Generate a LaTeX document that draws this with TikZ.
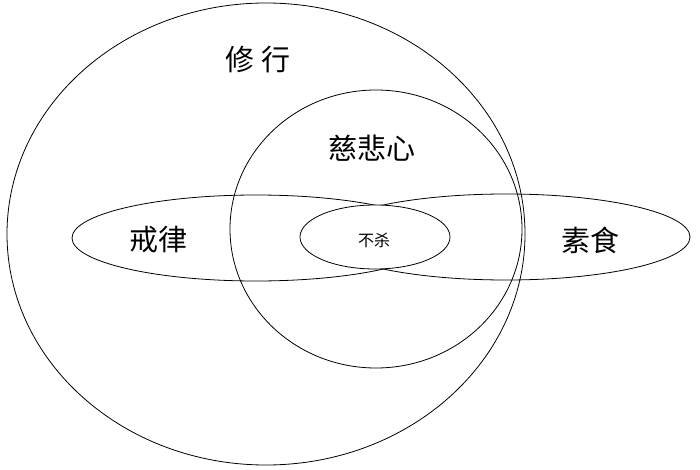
\documentclass[tikz,border=0pt]{standalone}
\usepackage{fontspec}
\newfontfamily\cjk{Noto Sans CJK SC}
\begin{document}
\begin{tikzpicture}[x=1pt,y=-1pt,line width=0.8pt,
  lab/.style={font=\cjk\fontsize{29}{32}\selectfont},
  slab/.style={font=\cjk\fontsize{16}{18}\selectfont}]
\useasboundingbox[fill=white] (0,0) rectangle (700,470);
\draw (266,234) ellipse [x radius=259, y radius=231];
\draw (376,229) ellipse [x radius=146, y radius=139];
\draw (256,238) ellipse [x radius=184, y radius=43];
\draw (506,237) ellipse [x radius=184, y radius=43];
\draw[fill=white] (375,237) ellipse [x radius=75, y radius=32];
\node[lab] (a) at (258,60) {修 行};
\node[lab] (b) at (372,148) {慈悲心};
\node[lab] (c) at (158,240) {戒律};
\node[lab] (d) at (590,240) {素食};
\node[slab] (e) at (374,240) {不杀};
\end{tikzpicture}
\end{document}
